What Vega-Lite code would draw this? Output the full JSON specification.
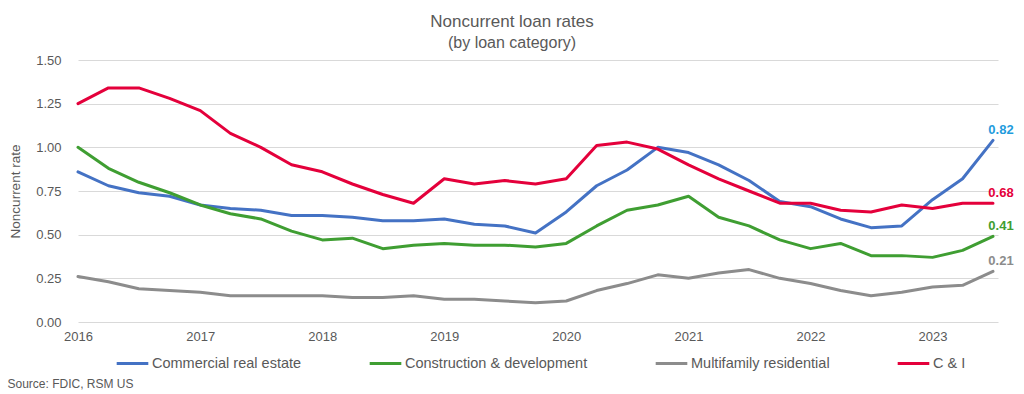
{
  "$schema": "https://vega.github.io/schema/vega-lite/v6.json",
  "width": 920,
  "height": 262,
  "autosize": {"type": "none"},
  "padding": {"left": 78, "top": 60, "right": 26, "bottom": 72},
  "background": "white",
  "config": {"font": "Liberation Sans", "view": {"stroke": null}},
  "title": {
    "text": "Noncurrent loan rates",
    "subtitle": "(by loan category)",
    "fontSize": 17,
    "fontWeight": "normal",
    "color": "#595959",
    "subtitleFontSize": 16,
    "subtitleColor": "#595959",
    "subtitlePadding": 4,
    "anchor": "middle",
    "dx": -26,
    "offset": 2
  },
  "data": {
    "values": [
      {"date": "2016-01-01", "series": "Commercial real estate", "value": 0.86},
      {"date": "2016-04-01", "series": "Commercial real estate", "value": 0.78},
      {"date": "2016-07-01", "series": "Commercial real estate", "value": 0.74},
      {"date": "2016-10-01", "series": "Commercial real estate", "value": 0.72},
      {"date": "2017-01-01", "series": "Commercial real estate", "value": 0.67},
      {"date": "2017-04-01", "series": "Commercial real estate", "value": 0.65},
      {"date": "2017-07-01", "series": "Commercial real estate", "value": 0.64},
      {"date": "2017-10-01", "series": "Commercial real estate", "value": 0.61},
      {"date": "2018-01-01", "series": "Commercial real estate", "value": 0.61},
      {"date": "2018-04-01", "series": "Commercial real estate", "value": 0.60},
      {"date": "2018-07-01", "series": "Commercial real estate", "value": 0.58},
      {"date": "2018-10-01", "series": "Commercial real estate", "value": 0.58},
      {"date": "2019-01-01", "series": "Commercial real estate", "value": 0.59},
      {"date": "2019-04-01", "series": "Commercial real estate", "value": 0.56},
      {"date": "2019-07-01", "series": "Commercial real estate", "value": 0.55},
      {"date": "2019-10-01", "series": "Commercial real estate", "value": 0.51},
      {"date": "2020-01-01", "series": "Commercial real estate", "value": 0.63},
      {"date": "2020-04-01", "series": "Commercial real estate", "value": 0.78},
      {"date": "2020-07-01", "series": "Commercial real estate", "value": 0.87},
      {"date": "2020-10-01", "series": "Commercial real estate", "value": 1.00},
      {"date": "2021-01-01", "series": "Commercial real estate", "value": 0.97},
      {"date": "2021-04-01", "series": "Commercial real estate", "value": 0.90},
      {"date": "2021-07-01", "series": "Commercial real estate", "value": 0.81},
      {"date": "2021-10-01", "series": "Commercial real estate", "value": 0.69},
      {"date": "2022-01-01", "series": "Commercial real estate", "value": 0.66},
      {"date": "2022-04-01", "series": "Commercial real estate", "value": 0.59},
      {"date": "2022-07-01", "series": "Commercial real estate", "value": 0.54},
      {"date": "2022-10-01", "series": "Commercial real estate", "value": 0.55},
      {"date": "2023-01-01", "series": "Commercial real estate", "value": 0.70},
      {"date": "2023-04-01", "series": "Commercial real estate", "value": 0.82},
      {"date": "2023-07-01", "series": "Commercial real estate", "value": 1.04, "label": "0.82"},
      {"date": "2016-01-01", "series": "Construction & development", "value": 1.00},
      {"date": "2016-04-01", "series": "Construction & development", "value": 0.88},
      {"date": "2016-07-01", "series": "Construction & development", "value": 0.80},
      {"date": "2016-10-01", "series": "Construction & development", "value": 0.74},
      {"date": "2017-01-01", "series": "Construction & development", "value": 0.67},
      {"date": "2017-04-01", "series": "Construction & development", "value": 0.62},
      {"date": "2017-07-01", "series": "Construction & development", "value": 0.59},
      {"date": "2017-10-01", "series": "Construction & development", "value": 0.52},
      {"date": "2018-01-01", "series": "Construction & development", "value": 0.47},
      {"date": "2018-04-01", "series": "Construction & development", "value": 0.48},
      {"date": "2018-07-01", "series": "Construction & development", "value": 0.42},
      {"date": "2018-10-01", "series": "Construction & development", "value": 0.44},
      {"date": "2019-01-01", "series": "Construction & development", "value": 0.45},
      {"date": "2019-04-01", "series": "Construction & development", "value": 0.44},
      {"date": "2019-07-01", "series": "Construction & development", "value": 0.44},
      {"date": "2019-10-01", "series": "Construction & development", "value": 0.43},
      {"date": "2020-01-01", "series": "Construction & development", "value": 0.45},
      {"date": "2020-04-01", "series": "Construction & development", "value": 0.55},
      {"date": "2020-07-01", "series": "Construction & development", "value": 0.64},
      {"date": "2020-10-01", "series": "Construction & development", "value": 0.67},
      {"date": "2021-01-01", "series": "Construction & development", "value": 0.72},
      {"date": "2021-04-01", "series": "Construction & development", "value": 0.60},
      {"date": "2021-07-01", "series": "Construction & development", "value": 0.55},
      {"date": "2021-10-01", "series": "Construction & development", "value": 0.47},
      {"date": "2022-01-01", "series": "Construction & development", "value": 0.42},
      {"date": "2022-04-01", "series": "Construction & development", "value": 0.45},
      {"date": "2022-07-01", "series": "Construction & development", "value": 0.38},
      {"date": "2022-10-01", "series": "Construction & development", "value": 0.38},
      {"date": "2023-01-01", "series": "Construction & development", "value": 0.37},
      {"date": "2023-04-01", "series": "Construction & development", "value": 0.41},
      {"date": "2023-07-01", "series": "Construction & development", "value": 0.49, "label": "0.41"},
      {"date": "2016-01-01", "series": "Multifamily residential", "value": 0.26},
      {"date": "2016-04-01", "series": "Multifamily residential", "value": 0.23},
      {"date": "2016-07-01", "series": "Multifamily residential", "value": 0.19},
      {"date": "2016-10-01", "series": "Multifamily residential", "value": 0.18},
      {"date": "2017-01-01", "series": "Multifamily residential", "value": 0.17},
      {"date": "2017-04-01", "series": "Multifamily residential", "value": 0.15},
      {"date": "2017-07-01", "series": "Multifamily residential", "value": 0.15},
      {"date": "2017-10-01", "series": "Multifamily residential", "value": 0.15},
      {"date": "2018-01-01", "series": "Multifamily residential", "value": 0.15},
      {"date": "2018-04-01", "series": "Multifamily residential", "value": 0.14},
      {"date": "2018-07-01", "series": "Multifamily residential", "value": 0.14},
      {"date": "2018-10-01", "series": "Multifamily residential", "value": 0.15},
      {"date": "2019-01-01", "series": "Multifamily residential", "value": 0.13},
      {"date": "2019-04-01", "series": "Multifamily residential", "value": 0.13},
      {"date": "2019-07-01", "series": "Multifamily residential", "value": 0.12},
      {"date": "2019-10-01", "series": "Multifamily residential", "value": 0.11},
      {"date": "2020-01-01", "series": "Multifamily residential", "value": 0.12},
      {"date": "2020-04-01", "series": "Multifamily residential", "value": 0.18},
      {"date": "2020-07-01", "series": "Multifamily residential", "value": 0.22},
      {"date": "2020-10-01", "series": "Multifamily residential", "value": 0.27},
      {"date": "2021-01-01", "series": "Multifamily residential", "value": 0.25},
      {"date": "2021-04-01", "series": "Multifamily residential", "value": 0.28},
      {"date": "2021-07-01", "series": "Multifamily residential", "value": 0.30},
      {"date": "2021-10-01", "series": "Multifamily residential", "value": 0.25},
      {"date": "2022-01-01", "series": "Multifamily residential", "value": 0.22},
      {"date": "2022-04-01", "series": "Multifamily residential", "value": 0.18},
      {"date": "2022-07-01", "series": "Multifamily residential", "value": 0.15},
      {"date": "2022-10-01", "series": "Multifamily residential", "value": 0.17},
      {"date": "2023-01-01", "series": "Multifamily residential", "value": 0.20},
      {"date": "2023-04-01", "series": "Multifamily residential", "value": 0.21},
      {"date": "2023-07-01", "series": "Multifamily residential", "value": 0.29, "label": "0.21"},
      {"date": "2016-01-01", "series": "C & I", "value": 1.25},
      {"date": "2016-04-01", "series": "C & I", "value": 1.34},
      {"date": "2016-07-01", "series": "C & I", "value": 1.34},
      {"date": "2016-10-01", "series": "C & I", "value": 1.28},
      {"date": "2017-01-01", "series": "C & I", "value": 1.21},
      {"date": "2017-04-01", "series": "C & I", "value": 1.08},
      {"date": "2017-07-01", "series": "C & I", "value": 1.00},
      {"date": "2017-10-01", "series": "C & I", "value": 0.90},
      {"date": "2018-01-01", "series": "C & I", "value": 0.86},
      {"date": "2018-04-01", "series": "C & I", "value": 0.79},
      {"date": "2018-07-01", "series": "C & I", "value": 0.73},
      {"date": "2018-10-01", "series": "C & I", "value": 0.68},
      {"date": "2019-01-01", "series": "C & I", "value": 0.82},
      {"date": "2019-04-01", "series": "C & I", "value": 0.79},
      {"date": "2019-07-01", "series": "C & I", "value": 0.81},
      {"date": "2019-10-01", "series": "C & I", "value": 0.79},
      {"date": "2020-01-01", "series": "C & I", "value": 0.82},
      {"date": "2020-04-01", "series": "C & I", "value": 1.01},
      {"date": "2020-07-01", "series": "C & I", "value": 1.03},
      {"date": "2020-10-01", "series": "C & I", "value": 0.99},
      {"date": "2021-01-01", "series": "C & I", "value": 0.90},
      {"date": "2021-04-01", "series": "C & I", "value": 0.82},
      {"date": "2021-07-01", "series": "C & I", "value": 0.75},
      {"date": "2021-10-01", "series": "C & I", "value": 0.68},
      {"date": "2022-01-01", "series": "C & I", "value": 0.68},
      {"date": "2022-04-01", "series": "C & I", "value": 0.64},
      {"date": "2022-07-01", "series": "C & I", "value": 0.63},
      {"date": "2022-10-01", "series": "C & I", "value": 0.67},
      {"date": "2023-01-01", "series": "C & I", "value": 0.65},
      {"date": "2023-04-01", "series": "C & I", "value": 0.68},
      {"date": "2023-07-01", "series": "C & I", "value": 0.68, "label": "0.68"}
    ]
  },
  "layer": [
    {
      "mark": {"type": "line", "strokeWidth": 3, "strokeJoin": "round", "strokeCap": "round"},
      "encoding": {
        "x": {
          "field": "date",
          "type": "temporal",
          "scale": {
            "type": "utc",
            "domain": [
              {"year": 2016, "month": 1, "date": 1, "utc": true},
              {"year": 2023, "month": 7, "date": 16, "utc": true}
            ]
          },
          "axis": {
            "title": "Source: FDIC, RSM US",
            "format": "%Y",
            "tickCount": {"interval": "year", "step": 1},
            "grid": false,
            "domain": false,
            "ticks": false,
            "labelFlush": false,
            "labelPadding": 8,
            "labelFontSize": 13,
            "labelColor": "#595959",
            "labelAlign": "center",
            "titleFontSize": 12,
            "titleFontWeight": "normal",
            "titleColor": "#595959",
            "titleX": -71,
            "titleY": 61,
            "titleAlign": "left",
            "titleAnchor": "start",
            "titleBaseline": "middle"
          }
        },
        "y": {
          "field": "value",
          "type": "quantitative",
          "scale": {"domain": [0, 1.5], "nice": false},
          "axis": {
            "title": "Noncurrent rate",
            "values": [0, 0.25, 0.5, 0.75, 1, 1.25, 1.5],
            "format": ".2f",
            "grid": true,
            "gridColor": "#D9D9D9",
            "gridWidth": 1,
            "domain": false,
            "ticks": false,
            "labelPadding": 17,
            "labelFontSize": 13,
            "labelColor": "#595959",
            "titleFontSize": 13.5,
            "titleFontWeight": "normal",
            "titleColor": "#595959",
            "titlePadding": 13
          }
        },
        "color": {
          "field": "series",
          "type": "nominal",
          "scale": {
            "domain": ["Commercial real estate", "Construction & development", "Multifamily residential", "C & I"],
            "range": ["#4472C4", "#3F9E32", "#8C8C8C", "#E4003B"]
          },
          "legend": {
            "orient": "none",
            "legendX": 37,
            "legendY": 286,
            "direction": "horizontal",
            "title": null,
            "symbolType": "stroke",
            "symbolSize": 1000,
            "symbolStrokeWidth": 3,
            "labelFontSize": 14.5,
            "labelColor": "#595959",
            "labelOffset": 2,
            "labelLimit": 0,
            "columnPadding": 61,
            "padding": 0
          }
        }
      }
    },
    {
      "transform": [{"filter": "datum.label != null"}],
      "mark": {"type": "text", "fontWeight": "bold", "fontSize": 13, "dx": 8, "dy": -10, "align": "center", "baseline": "middle"},
      "encoding": {
        "x": {"field": "date", "type": "temporal"},
        "y": {"field": "value", "type": "quantitative"},
        "text": {"field": "label"},
        "color": {
          "field": "series",
          "type": "nominal",
          "scale": {
            "domain": ["Commercial real estate", "Construction & development", "Multifamily residential", "C & I"],
            "range": ["#1F9CDD", "#3F9E32", "#8C8C8C", "#E4003B"]
          },
          "legend": null
        }
      }
    }
  ],
  "resolve": {"scale": {"color": "independent"}}
}
